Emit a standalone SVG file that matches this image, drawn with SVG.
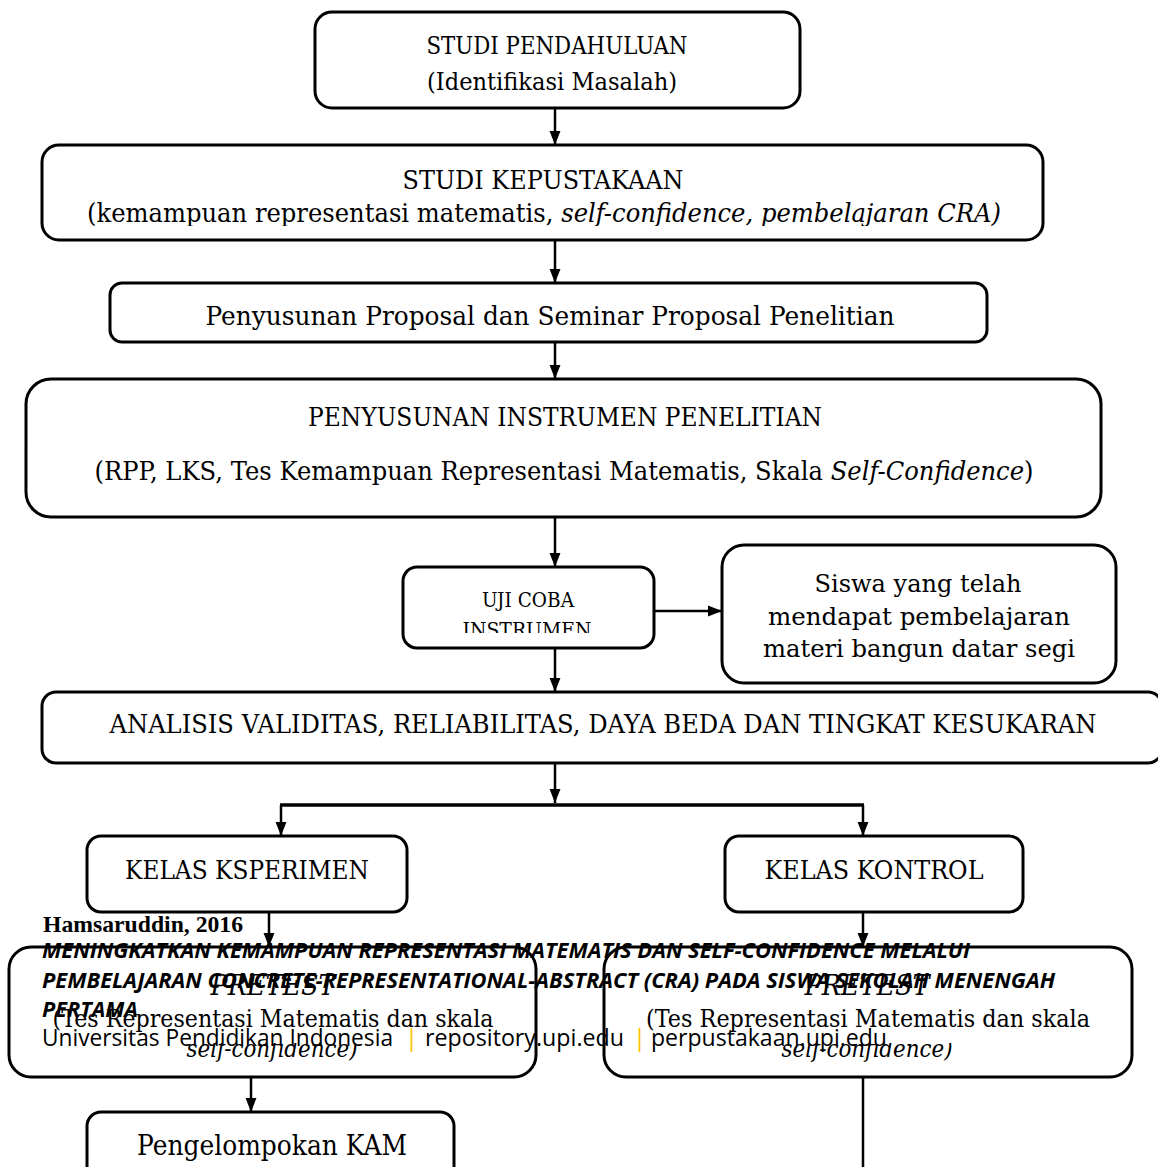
<svg xmlns="http://www.w3.org/2000/svg" width="1158" height="1167" viewBox="0 0 1158 1167">
<style>
.box{fill:#fff;stroke:#000;stroke-width:3}
.t{font-family:"DejaVu Serif","Liberation Serif",serif;fill:#000;text-anchor:middle}
.i{font-style:italic}
.c{fill:none;stroke:#000;stroke-width:2.5}
.f1{font-family:"Liberation Serif",serif;font-weight:bold;fill:#000}
.f2{font-family:"Open Sans","Noto Sans",sans-serif;font-weight:bold;font-style:italic;fill:#000}
.f3{font-family:"Open Sans","Noto Sans",sans-serif;fill:#000}
.p{font-family:"Open Sans","Noto Sans",sans-serif;fill:#FFC000}
</style>
<defs>
<marker id="ah" markerUnits="userSpaceOnUse" markerWidth="14" markerHeight="18" viewBox="0 0 18 14" refX="18" refY="7" orient="auto">
<path d="M0,0 L18,7 L0,14 Z" fill="#000"/>
</marker>
<clipPath id="c2"><rect x="40" y="140" width="1010" height="86"/></clipPath>
<clipPath id="c5"><rect x="400" y="560" width="260" height="73"/></clipPath>
<clipPath id="c6"><rect x="720" y="540" width="400" height="124"/></clipPath>
<clipPath id="c10"><rect x="0" y="1043" width="1158" height="40"/></clipPath>
</defs>

<g id="connectors">
<line class="c" x1="555" y1="108" x2="555" y2="145" marker-end="url(#ah)"/>
<line class="c" x1="555" y1="240" x2="555" y2="283" marker-end="url(#ah)"/>
<line class="c" x1="555" y1="342" x2="555" y2="379" marker-end="url(#ah)"/>
<line class="c" x1="555" y1="517" x2="555" y2="567" marker-end="url(#ah)"/>
<line class="c" x1="654" y1="611" x2="722" y2="611" marker-end="url(#ah)"/>
<line class="c" x1="555" y1="648" x2="555" y2="692" marker-end="url(#ah)"/>
<line class="c" x1="555" y1="763" x2="555" y2="803" marker-end="url(#ah)"/>
<line class="c" x1="280" y1="805" x2="864" y2="805" style="stroke-width:3.5"/>
<line class="c" x1="281" y1="805" x2="281" y2="836" marker-end="url(#ah)"/>
<line class="c" x1="863" y1="805" x2="863" y2="836" marker-end="url(#ah)"/>
<line class="c" x1="269" y1="912" x2="269" y2="947" marker-end="url(#ah)"/>
<line class="c" x1="863" y1="912" x2="863" y2="947" marker-end="url(#ah)"/>
<line class="c" x1="251" y1="1077" x2="251" y2="1112" marker-end="url(#ah)"/>
<line class="c" x1="863" y1="1077" x2="863" y2="1167"/>
</g>

<g id="studi-pendahuluan">
<rect class="box" x="315" y="12" width="485" height="96" rx="17"/>
<text class="t" x="557" y="54" font-size="24" textLength="261" lengthAdjust="spacingAndGlyphs">STUDI PENDAHULUAN</text>
<text class="t" x="552" y="90" font-size="24" textLength="250" lengthAdjust="spacingAndGlyphs">(Identifikasi Masalah)</text>
</g>

<g id="studi-kepustakaan">
<rect class="box" x="42" y="145" width="1001" height="95" rx="17"/>
<text class="t" x="543" y="189" font-size="26" textLength="281" lengthAdjust="spacingAndGlyphs">STUDI KEPUSTAKAAN</text>
<g clip-path="url(#c2)">
<text class="t" x="544" y="222" font-size="26.5" textLength="914" lengthAdjust="spacingAndGlyphs">(kemampuan representasi matematis, <tspan class="i">self-confidence, pembelajaran CRA)</tspan></text>
</g>
</g>

<g id="penyusunan-proposal">
<rect class="box" x="110" y="283" width="877" height="59" rx="12"/>
<text class="t" x="550" y="325" font-size="26.5" textLength="689" lengthAdjust="spacingAndGlyphs">Penyusunan Proposal dan Seminar Proposal Penelitian</text>
</g>

<g id="penyusunan-instrumen">
<rect class="box" x="26" y="379" width="1075" height="138" rx="25"/>
<text class="t" x="565" y="426" font-size="26.5" textLength="514" lengthAdjust="spacingAndGlyphs">PENYUSUNAN INSTRUMEN PENELITIAN</text>
<text class="t" x="564" y="480" font-size="26.5" textLength="939" lengthAdjust="spacingAndGlyphs">(RPP, LKS, Tes Kemampuan Representasi Matematis, Skala <tspan class="i">Self-Confidence</tspan>)</text>
</g>

<g id="uji-coba">
<rect class="box" x="403" y="567" width="251" height="81" rx="14"/>
<text class="t" x="528" y="607" font-size="21" textLength="92" lengthAdjust="spacingAndGlyphs">UJI COBA</text>
<g clip-path="url(#c5)">
<text class="t" x="527" y="637" font-size="21" textLength="129" lengthAdjust="spacingAndGlyphs">INSTRUMEN</text>
</g>
</g>

<g id="siswa">
<rect class="box" x="722" y="545" width="394" height="138" rx="22"/>
<text class="t" x="918" y="592" font-size="24.5" textLength="207" lengthAdjust="spacingAndGlyphs">Siswa yang telah</text>
<text class="t" x="919" y="625" font-size="24.5" textLength="302" lengthAdjust="spacingAndGlyphs">mendapat pembelajaran</text>
<g clip-path="url(#c6)">
<text class="t" x="919" y="657" font-size="24.5" textLength="312" lengthAdjust="spacingAndGlyphs">materi bangun datar segi</text>
</g>
</g>

<g id="analisis">
<rect class="box" x="42" y="692" width="1120" height="71" rx="14"/>
<text class="t" x="603" y="733" font-size="26" textLength="987" lengthAdjust="spacingAndGlyphs">ANALISIS VALIDITAS, RELIABILITAS, DAYA BEDA DAN TINGKAT KESUKARAN</text>
</g>

<g id="kelas-eksperimen">
<rect class="box" x="87" y="836" width="320" height="76" rx="14"/>
<text class="t" x="247" y="879" font-size="26" textLength="244" lengthAdjust="spacingAndGlyphs">KELAS KSPERIMEN</text>
</g>

<g id="kelas-kontrol">
<rect class="box" x="725" y="836" width="298" height="76" rx="14"/>
<text class="t" x="874" y="879" font-size="26" textLength="219" lengthAdjust="spacingAndGlyphs">KELAS KONTROL</text>
</g>

<g id="pretest-eksperimen">
<rect class="box" x="9" y="947" width="527" height="130" rx="22"/>
<text class="t i" x="273" y="995" font-size="28" textLength="125" lengthAdjust="spacingAndGlyphs">PRETEST</text>
<text class="t" x="273" y="1027" font-size="24.5" textLength="441" lengthAdjust="spacingAndGlyphs">(Tes Representasi Matematis dan skala</text>
<g clip-path="url(#c10)">
<text class="t i" x="272" y="1057" font-size="24.5" textLength="171" lengthAdjust="spacingAndGlyphs">self-confidence)</text>
</g>
</g>

<g id="pretest-kontrol">
<rect class="box" x="604" y="947" width="528" height="130" rx="22"/>
<text class="t i" x="867" y="995" font-size="28" textLength="125" lengthAdjust="spacingAndGlyphs">PRETEST</text>
<text class="t" x="868" y="1027" font-size="24.5" textLength="444" lengthAdjust="spacingAndGlyphs">(Tes Representasi Matematis dan skala</text>
<g clip-path="url(#c10)">
<text class="t i" x="867" y="1057" font-size="24.5" textLength="171" lengthAdjust="spacingAndGlyphs">self-confidence)</text>
</g>
</g>

<g id="pengelompokan-kam">
<rect class="box" x="87" y="1112" width="367" height="80" rx="14"/>
<text class="t" x="272" y="1155" font-size="27" textLength="270" lengthAdjust="spacingAndGlyphs">Pengelompokan KAM</text>
</g>

<g id="footer">
<text class="f1" x="43" y="932" font-size="24" textLength="200" lengthAdjust="spacingAndGlyphs">Hamsaruddin, 2016</text>
<text class="f2" x="42" y="958" font-size="21" textLength="928" lengthAdjust="spacingAndGlyphs">MENINGKATKAN KEMAMPUAN REPRESENTASI MATEMATIS DAN SELF-CONFIDENCE MELALUI</text>
<text class="f2" x="42" y="988" font-size="21" textLength="1013" lengthAdjust="spacingAndGlyphs">PEMBELAJARAN CONCRETE-REPRESENTATIONAL-ABSTRACT (CRA) PADA SISWA SEKOLAH MENENGAH</text>
<text class="f2" x="42" y="1017" font-size="21" textLength="96" lengthAdjust="spacingAndGlyphs">PERTAMA</text>
<text class="f3" x="42" y="1046" font-size="24" textLength="351" lengthAdjust="spacingAndGlyphs">Universitas Pendidikan Indonesia</text>
<text class="p" x="405" y="1046" font-size="24">|</text>
<text class="f3" x="425" y="1046" font-size="24" textLength="199" lengthAdjust="spacingAndGlyphs">repository.upi.edu</text>
<text class="p" x="633" y="1046" font-size="24">|</text>
<text class="f3" x="651" y="1046" font-size="24" textLength="236" lengthAdjust="spacingAndGlyphs">perpustakaan.upi.edu</text>
</g>
</svg>
